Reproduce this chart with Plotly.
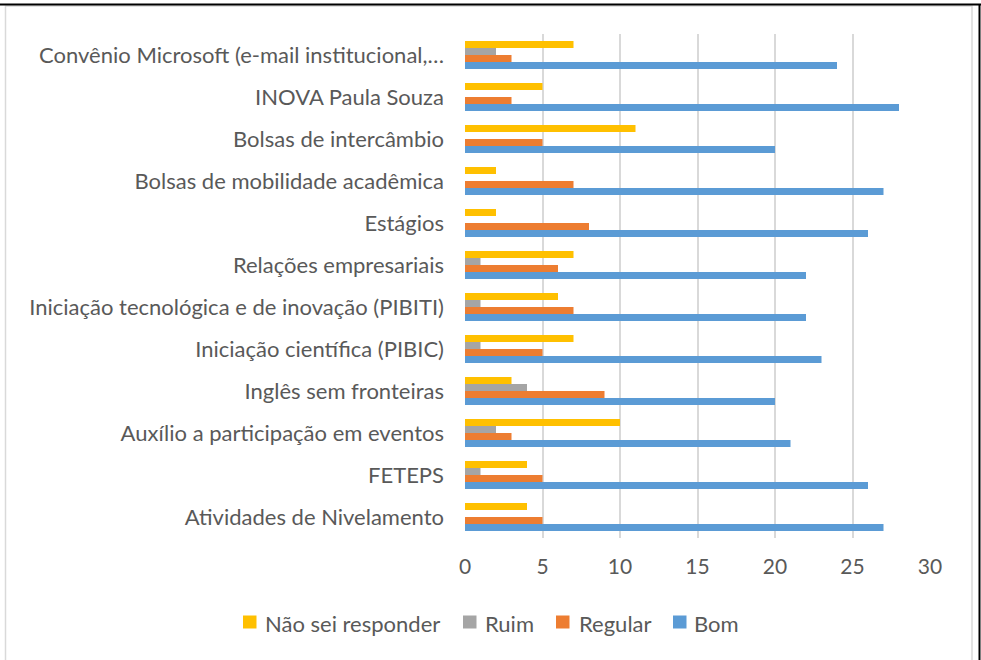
import plotly.graph_objects as go

categories = [
    "Atividades de Nivelamento",
    "FETEPS",
    "Auxílio a participação em eventos",
    "Inglês sem fronteiras",
    "Iniciação científica (PIBIC)",
    "Iniciação tecnológica e de inovação (PIBITI)",
    "Relações empresariais",
    "Estágios",
    "Bolsas de mobilidade acadêmica",
    "Bolsas de intercâmbio",
    "INOVA Paula Souza",
    "Convênio Microsoft (e-mail institucional,…",
]
bom = [27, 26, 21, 20, 23, 22, 22, 26, 27, 20, 28, 24]
regular = [5, 5, 3, 9, 5, 7, 6, 8, 7, 5, 3, 3]
ruim = [0, 1, 2, 4, 1, 1, 1, 0, 0, 0, 0, 2]
nao_sei = [4, 4, 10, 3, 7, 6, 7, 2, 2, 11, 5, 7]
x_ticks = [0, 5, 10, 15, 20, 25, 30]

series_names = ["Bom", "Regular", "Ruim", "Não sei responder"]
series_values = [bom, regular, ruim, nao_sei]
series_colors = ["#5B9BD5", "#ED7D31", "#A5A5A5", "#FFC000"]

fig = go.Figure()
for name, vals, color in zip(series_names, series_values, series_colors):
    fig.add_trace(go.Bar(
        y=categories, x=vals, name=name, orientation="h",
        marker=dict(color=color, line=dict(width=0)),
        showlegend=False,
    ))

W, H = 981, 660
L, R, T, B = 465, 930, 34, 538

def px(x):
    return (x - L) / (R - L)

def py(y):
    return (B - y) / (B - T)

shapes = [
    dict(type="rect", xref="paper", yref="paper", x0=px(5.5), x1=px(972), y0=py(6), y1=py(664),
         line=dict(color="#d9d9d9", width=1.5), fillcolor="rgba(0,0,0,0)", layer="below"),
    dict(type="line", xref="paper", yref="paper", x0=px(0), x1=px(981), y0=py(4.5), y1=py(4.5),
         line=dict(color="black", width=2)),
    dict(type="line", xref="paper", yref="paper", x0=px(979.5), x1=px(979.5), y0=py(4), y1=py(664),
         line=dict(color="black", width=2)),
]
annotations = []

# custom legend (order left to right as in the reference)
legend_order = [3, 2, 1, 0]
swatch_x = [243, 463, 556, 673]
text_x = [263, 483, 577, 692]
leg_y = 622
for i, sx, tx in zip(legend_order, swatch_x, text_x):
    shapes.append(dict(type="rect", xref="paper", yref="paper",
                       x0=px(sx), x1=px(sx + 13.5), y0=py(leg_y + 6.5), y1=py(leg_y - 6.5),
                       fillcolor=series_colors[i], line=dict(width=0)))
    annotations.append(dict(xref="paper", yref="paper", x=px(tx), y=py(leg_y + 1),
                            xanchor="left", yanchor="middle", showarrow=False,
                            text=series_names[i], font=dict(size=22, color="#595959")))

fig.update_layout(
    width=W, height=H,
    margin=dict(l=L, r=W - R, t=T, b=H - B, pad=0),
    barmode="group", bargap=0.333, bargroupgap=0,
    paper_bgcolor="white", plot_bgcolor="white",
    font=dict(family="Lato, Open Sans, sans-serif", size=22, color="#595959"),
    xaxis=dict(range=[0, 30], tickvals=x_ticks, showgrid=True, gridcolor="#d9d9d9", gridwidth=1.5,
               zeroline=False, showline=False, ticks="", tickfont=dict(size=21, color="#595959"),
               ticklabelstandoff=14),
    yaxis=dict(showgrid=False, zeroline=False, showline=False, ticks="",
               tickfont=dict(size=22, color="#595959"), ticklabelstandoff=20),
    shapes=shapes,
    annotations=annotations,
    showlegend=False,
)

fig.write_html("out.html", post_script="document.body.style.margin='0';",
               config={"displayModeBar": False})
